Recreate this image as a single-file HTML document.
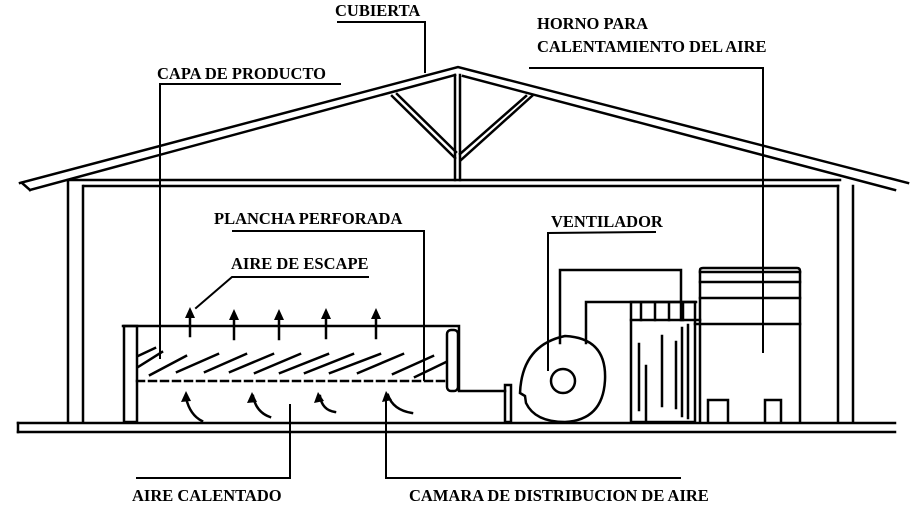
<!DOCTYPE html>
<html><head><meta charset="utf-8"><style>
html,body{margin:0;padding:0;background:#fff}
svg{display:block}
text{font-family:"Liberation Serif",serif;font-weight:bold;font-size:16.5px;fill:#000}
</style></head><body>
<svg width="924" height="521" viewBox="0 0 924 521" xmlns="http://www.w3.org/2000/svg">
<g stroke="#000" stroke-width="2.5" fill="none" stroke-linecap="square">
<!-- roof -->
<polyline points="20,183 458,67 908,183"/>
<polyline points="30,190 455,75"/>
<polyline points="22,183 30,190"/>
<polyline points="463,76 895,190"/>
<polyline points="455,75 455,180"/>
<polyline points="460,75 460,180"/>
<polyline points="392,96 455,158"/>
<polyline points="397,94 456,152"/>
<polyline points="532,96 461,160"/>
<polyline points="526,96 460,154"/>
<!-- ceiling beam -->
<polyline points="68,180 840,180"/>
<polyline points="84,186 838,186"/>
<!-- columns -->
<polyline points="68,182 68,422"/>
<polyline points="83,186 83,422"/>
<polyline points="838,186 838,422"/>
<polyline points="853,186 853,422"/>
<!-- floor -->
<polyline points="18,423 895,423"/>
<polyline points="18,432 895,432"/>
<polyline points="18,423 18,432"/>
<!-- dryer box -->
<polyline points="123,326 459,326 459,391 505,391"/>
<rect x="124" y="326" width="13" height="96"/>
<rect x="447" y="330" width="11" height="61" rx="4"/>
<polyline points="137,381 446,381" stroke-dasharray="7,5"/>
<!-- hatches -->
<g>
<polyline points="138,356 155,348"/><polyline points="138,367 162,352"/>
<polyline points="150,375 186,356"/><polyline points="177,372 218,354"/>
<polyline points="205,372 246,354"/><polyline points="230,372 273,354"/>
<polyline points="255,373 300,354"/><polyline points="280,373 328,354"/>
<polyline points="305,373 353,354"/><polyline points="330,373 380,354"/>
<polyline points="358,373 403,354"/><polyline points="393,374 433,356"/>
<polyline points="415,377 446,362"/>
</g>
<!-- exhaust arrows -->
<polyline points="190,336 190,312"/><polyline points="234,339 234,314"/>
<polyline points="279,339 279,314"/><polyline points="326,338 326,313"/>
<polyline points="376,338 376,313"/>
<!-- heated air arrows -->
<path d="M186,398 Q190,415 202,421"/>
<path d="M253,396 Q256,412 270,417"/>
<path d="M320,396 Q322,410 335,412"/>
<path d="M388,395 Q393,410 412,413"/>
<!-- duct post -->
<rect x="505" y="385" width="6" height="37"/>
<!-- fan -->
<path d="M525,396 L520,393 Q522,345 565,336 Q607,338 605,380 Q603,420 565,422 Q535,422 526,403 Z"/>
<circle cx="563" cy="381" r="12"/>
<polyline points="560,343 560,270 681,270 681,320"/>
<polyline points="586,343 586,302 696,302"/>
<!-- heater -->
<rect x="631" y="302" width="64" height="120"/>
<polyline points="631,320 700,320"/>
<polyline points="641,304 641,320"/><polyline points="655,304 655,320"/>
<polyline points="669,304 669,320"/><polyline points="683,304 683,320"/>
<polyline points="639,344 639,410"/><polyline points="646,366 646,420"/>
<polyline points="662,336 662,406"/><polyline points="676,342 676,408"/>
<polyline points="682,328 682,416"/><polyline points="688,325 688,418"/>
<path d="M700,422 L700,270 Q700,268 703,268 L797,268 Q800,268 800,271 L800,422"/>
<polyline points="700,272 800,272"/><polyline points="700,282 800,282"/>
<polyline points="700,298 800,298"/><polyline points="695,324 800,324"/>
<polyline points="708,422 708,400 728,400 728,422"/>
<polyline points="765,422 765,400 781,400 781,422"/>
<!-- leaders -->
<polyline points="338,22 425,22 425,72" stroke-width="2"/>
<polyline points="160,84 340,84" stroke-width="2"/>
<polyline points="160,84 160,358" stroke-width="2"/>
<polyline points="530,68 763,68 763,352" stroke-width="2"/>
<polyline points="233,231 424,231 424,380" stroke-width="2"/>
<polyline points="368,277 232,277 196,308" stroke-width="2"/>
<polyline points="548,370 548,233 655,232" stroke-width="2"/>
<polyline points="290,405 290,478 137,478" stroke-width="2"/>
<polyline points="386,400 386,478 680,478" stroke-width="2"/>
</g>
<!-- arrowheads -->
<g fill="#000">
<polygon points="190,307 185,318 195,318"/>
<polygon points="234,309 229,320 239,320"/>
<polygon points="279,309 274,320 284,320"/>
<polygon points="326,308 321,319 331,319"/>
<polygon points="376,308 371,319 381,319"/>
<polygon points="186,391 181,402 191,401"/>
<polygon points="252,392 247,403 257,402"/>
<polygon points="318,392 314,403 324,401"/>
<polygon points="386,391 382,402 392,400"/>
</g>
<text x="335" y="16">CUBIERTA</text>
<text x="157" y="79">CAPA DE PRODUCTO</text>
<text x="537" y="29">HORNO PARA</text>
<text x="537" y="52">CALENTAMIENTO DEL AIRE</text>
<text x="214" y="224">PLANCHA PERFORADA</text>
<text x="551" y="227">VENTILADOR</text>
<text x="231" y="269">AIRE DE ESCAPE</text>
<text x="132" y="501">AIRE CALENTADO</text>
<text x="409" y="501">CAMARA DE DISTRIBUCION DE AIRE</text>
</svg>
</body></html>
